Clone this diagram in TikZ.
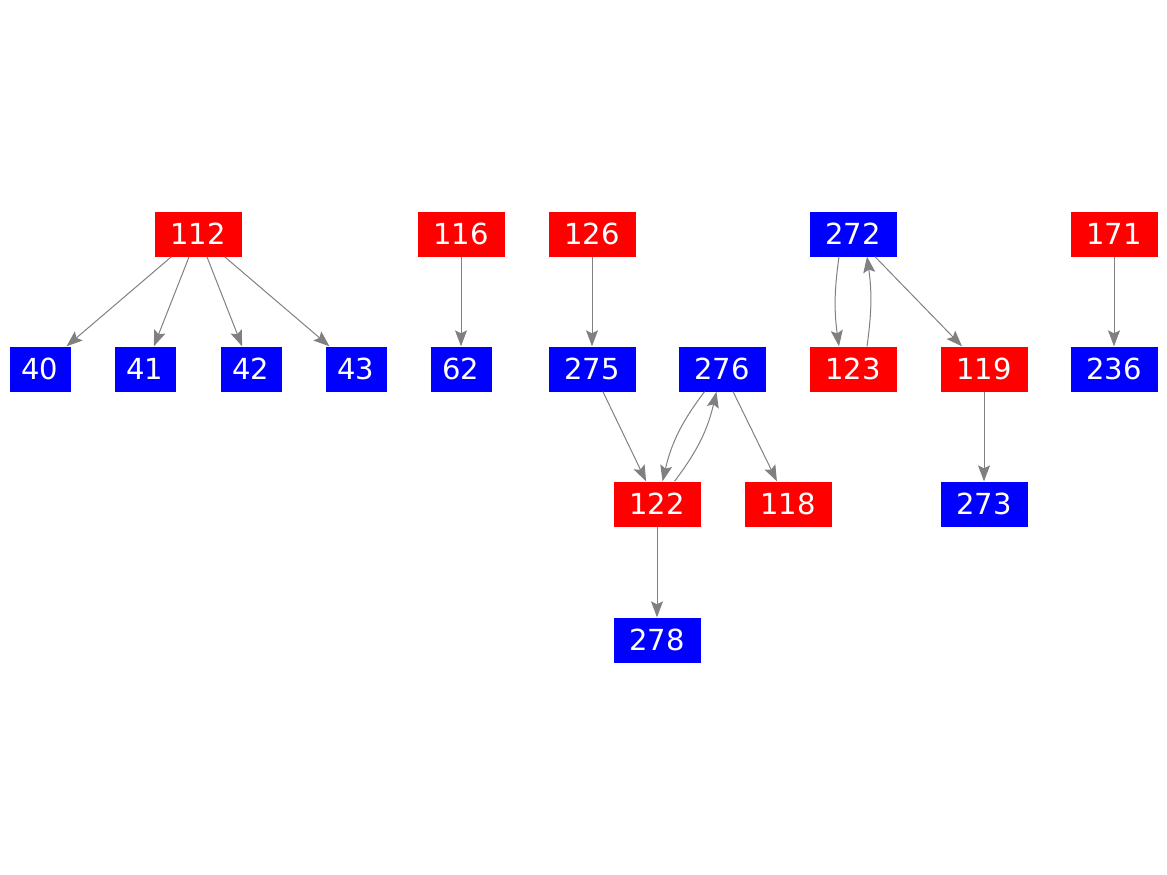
\documentclass[tikz,border=0pt]{standalone}
\usepackage{fontspec}
\setmainfont{DejaVu Sans}
\usetikzlibrary{arrows.meta}
\definecolor{edgegray}{RGB}{128,128,128}
\tikzset{
  box/.style={inner sep=0pt, minimum height=45pt, text=white,
    font=\fontsize{29}{34}\selectfont},
  wide/.style={box, minimum width=87pt},
  narrow/.style={box, minimum width=61pt},
  rednode/.style={fill={rgb,255:red,255;green,0;blue,0}},
  bluenode/.style={fill={rgb,255:red,0;green,0;blue,255}},
  edge/.style={draw=edgegray, line width=1pt,
    -{Stealth[length=16pt,width=12pt,inset=3pt]}}
}
\begin{document}
\begin{tikzpicture}[x=1pt,y=-1pt]
\useasboundingbox (0,0) rectangle (1167,875);
% row 1
\node[wide,rednode]  (n112) at (198,234) {112};
\node[wide,rednode]  (n116) at (461,234) {116};
\node[wide,rednode]  (n126) at (592,234) {126};
\node[wide,bluenode] (n272) at (853,234) {272};
\node[wide,rednode]  (n171) at (1114,234) {171};
% row 2
\node[narrow,bluenode] (n40) at (40,369) {40};
\node[narrow,bluenode] (n41) at (145,369) {41};
\node[narrow,bluenode] (n42) at (251,369) {42};
\node[narrow,bluenode] (n43) at (356,369) {43};
\node[narrow,bluenode] (n62) at (461,369) {62};
\node[wide,bluenode] (n275) at (592,369) {275};
\node[wide,bluenode] (n276) at (722,369) {276};
\node[wide,rednode]  (n123) at (853,369) {123};
\node[wide,rednode]  (n119) at (984,369) {119};
\node[wide,bluenode] (n236) at (1114,369) {236};
% row 3
\node[wide,rednode]  (n122) at (657,504) {122};
\node[wide,rednode]  (n118) at (788,504) {118};
\node[wide,bluenode] (n273) at (984,504) {273};
% row 4
\node[wide,bluenode] (n278) at (657,640) {278};
% edges
\draw[edge] (n112) -- (n40);
\draw[edge] (n112) -- (n41);
\draw[edge] (n112) -- (n42);
\draw[edge] (n112) -- (n43);
\draw[edge] (n116) -- (n62);
\draw[edge] (n126) -- (n275);
\draw[edge] (n171) -- (n236);
\draw[edge] (n275) -- (n122);
\draw[edge] (n276) to[bend right=12] (n122);
\draw[edge] (n122) to[bend right=12] (n276);
\draw[edge] (n276) -- (n118);
\draw[edge] (n122) -- (n278);
\draw[edge] ([xshift=-14pt]n272.south) to[bend right=8] ([xshift=-14pt]n123.north);
\draw[edge] ([xshift=14pt]n123.north) to[bend right=8] ([xshift=14pt]n272.south);
\draw[edge] (n272) -- (n119);
\draw[edge] (n119) -- (n273);
\end{tikzpicture}
\end{document}
